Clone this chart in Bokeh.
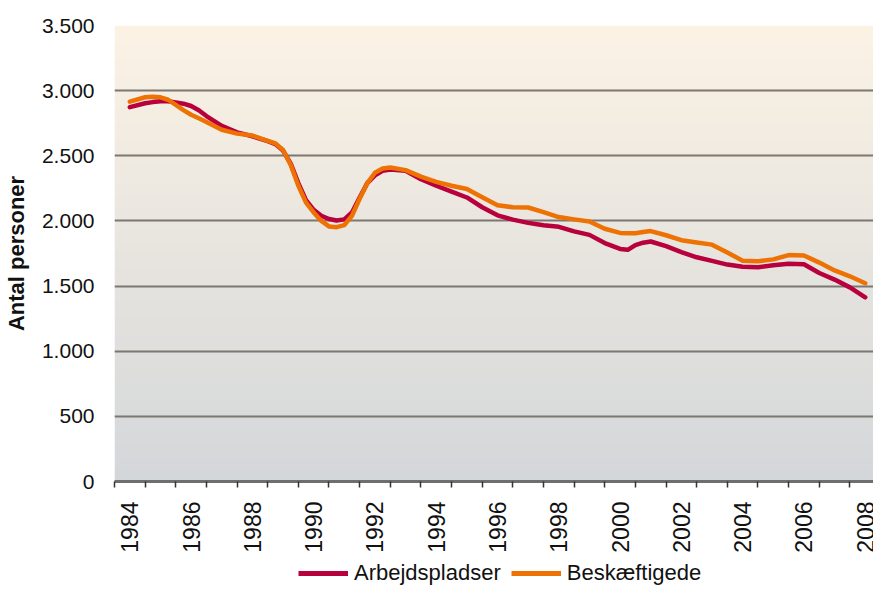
import numpy as np
from bokeh.plotting import figure
from bokeh.layouts import column
from bokeh.models import (Range1d, FixedTicker, Legend, LegendItem, ColumnDataSource)
from bokeh.embed import file_html
from bokeh.resources import INLINE
import math

# ---- data ----
periods = [1984.0, 1984.5, 1984.75, 1985.0, 1985.25, 1985.5, 1985.75, 1986.0,
           1986.25, 1986.5, 1987.0, 1987.5, 1988.0, 1988.5, 1988.75, 1989.0,
           1989.25, 1989.5, 1989.75, 1990.0, 1990.25, 1990.5, 1990.75, 1991.0,
           1991.25, 1991.5, 1991.75, 1992.0, 1992.25, 1992.5, 1993.0, 1993.5,
           1994.0, 1994.5, 1995.0, 1995.5, 1996.0, 1996.5, 1997.0, 1997.5,
           1998.0, 1998.5, 1999.0, 1999.5, 2000.0, 2000.25, 2000.5, 2000.75,
           2001.0, 2001.5, 2002.0, 2002.5, 2003.0, 2003.5, 2004.0, 2004.5,
           2005.0, 2005.5, 2006.0, 2006.5, 2007.0, 2007.5, 2008.0]

arbejdspladser = [2873, 2903, 2912, 2918, 2918, 2910, 2900, 2882,
                  2850, 2805, 2730, 2680, 2650, 2612, 2590, 2540,
                  2440, 2290, 2160, 2085, 2040, 2015, 2003, 2012,
                  2065, 2180, 2290, 2350, 2385, 2395, 2385, 2320,
                  2270, 2225, 2180, 2105, 2043, 2010, 1985, 1967,
                  1955, 1920, 1893, 1830, 1785, 1778, 1815, 1833,
                  1842, 1806, 1760, 1721, 1693, 1665, 1648, 1645,
                  1660, 1672, 1668, 1600, 1550, 1490, 1414]

beskaeftigede = [2916, 2949, 2953, 2949, 2930, 2890, 2850, 2815,
                 2788, 2760, 2700, 2670, 2655, 2615, 2595, 2545,
                 2430, 2270, 2140, 2065, 2000, 1958, 1952, 1968,
                 2040, 2170, 2290, 2370, 2402, 2410, 2390, 2340,
                 2300, 2270, 2245, 2182, 2120, 2105, 2103, 2068,
                 2030, 2012, 1996, 1940, 1908, 1905, 1906, 1915,
                 1922, 1890, 1852, 1835, 1818, 1757, 1695, 1691,
                 1705, 1738, 1735, 1680, 1620, 1575, 1522]

years = [1984, 1985, 1986, 1987, 1988, 1989, 1990, 1991, 1992, 1993, 1994,
         1995, 1996, 1997, 1998, 1999, 2000, 2001, 2002, 2003, 2004, 2005,
         2006, 2007, 2008]
year_labels = ["1984", "1986", "1988", "1990", "1992", "1994", "1996",
               "1998", "2000", "2002", "2004", "2006", "2008"]
y_ticks = [0, 500, 1000, 1500, 2000, 2500, 3000, 3500]
y_labels = ["0", "500", "1.000", "1.500", "2.000", "2.500", "3.000", "3.500"]
series_names = ["Arbejdspladser", "Beskæftigede"]

FONT = "Liberation Sans"
RED = "#B8003C"
ORANGE = "#EE7203"

x0, x1 = years[0] - 0.5, 2008.27
p = figure(width=873, height=556, output_backend="svg", toolbar_location=None,
           x_range=Range1d(x0, x1), y_range=Range1d(0, 3500),
           min_border_left=105, min_border_right=0, min_border_top=25,
           min_border_bottom=75)
p.outline_line_color = None
p.border_fill_color = "white"
p.background_fill_color = "white"

# gradient background of the plot area
n = 256
top = np.array([252, 243, 229], dtype=float)
bot = np.array([212, 215, 218], dtype=float)
frac = np.linspace(0, 1, n)[:, None]
cols = bot + (top - bot) * frac
img = np.empty((n, 1), dtype=np.uint32)
view = img.view(dtype=np.uint8).reshape((n, 1, 4))
view[:, 0, 0] = cols[:, 0]
view[:, 0, 1] = cols[:, 1]
view[:, 0, 2] = cols[:, 2]
view[:, 0, 3] = 255
p.image_rgba(image=[img], x=x0, y=0, dw=x1 - x0, dh=3500, level="image")

# grid
p.xgrid.grid_line_color = None
p.ygrid.ticker = FixedTicker(ticks=y_ticks)
p.ygrid.grid_line_color = "#7C7770"
p.ygrid.grid_line_width = 2

src = ColumnDataSource(dict(t=periods, a=arbejdspladser, b=beskaeftigede))
p.line("t", "a", source=src, line_color=RED, line_width=4.5,
       line_join="round", line_cap="round")
p.line("t", "b", source=src, line_color=ORANGE, line_width=4.5,
       line_join="round", line_cap="round")

# y axis
ya = p.yaxis[0]
ya.ticker = FixedTicker(ticks=y_ticks)
ya.major_label_overrides = {t: l for t, l in zip(y_ticks, y_labels)}
ya.axis_line_color = None
ya.major_tick_line_color = None
ya.minor_tick_line_color = None
ya.major_label_text_font = FONT
ya.major_label_text_font_size = "21px"
ya.major_label_text_color = "#111111"
ya.major_label_standoff = 14
ya.axis_label = "Antal personer"
ya.axis_label_text_font = FONT
ya.axis_label_text_font_size = "22px"
ya.axis_label_text_font_style = "bold"
ya.axis_label_text_color = "#111111"
ya.axis_label_standoff = 10

# x axis
label_years = [int(s) for s in year_labels]
xa = p.xaxis[0]
xa.ticker = FixedTicker(ticks=label_years, minor_ticks=[y - 0.5 for y in years] + [years[-1] + 0.5])
xa.major_label_overrides = {y: s for y, s in zip(label_years, year_labels)}
xa.major_label_orientation = math.pi / 2
xa.major_tick_line_color = None
xa.minor_tick_line_color = "#333333"
xa.minor_tick_line_width = 1.5
xa.minor_tick_in = 0
xa.minor_tick_out = 6
xa.axis_line_color = "#6E6E6E"
xa.axis_line_width = 3
xa.major_label_text_font = FONT
xa.major_label_text_font_size = "23px"
xa.major_label_text_color = "#111111"
xa.major_label_standoff = 14

# legend strip below the chart (dummy renderers lie outside its visible range)
q = figure(width=873, height=30, output_backend="svg", toolbar_location=None,
           x_range=Range1d(0, 1), y_range=Range1d(0, 1), min_border=0)
q.axis.visible = False
q.grid.visible = False
q.outline_line_color = None
q.background_fill_color = "white"
q.border_fill_color = "white"
k1 = q.line(x=[0, 1], y=[-5, -5], line_color=RED, line_width=5)
k2 = q.line(x=[0, 1], y=[-5, -5], line_color=ORANGE, line_width=5)
legend = Legend(items=[LegendItem(label=series_names[0], renderers=[k1]),
                       LegendItem(label=series_names[1], renderers=[k2])],
                orientation="horizontal", location=(184, 0),
                glyph_width=50, glyph_height=20, label_standoff=6, spacing=10,
                padding=0, margin=0, border_line_color=None,
                background_fill_alpha=0, label_text_font=FONT,
                label_text_font_size="22px", label_text_color="#111111",
                label_height=20)
q.add_layout(legend, "center")

open("out.html", "w").write(file_html(column(p, q, spacing=0), INLINE))
